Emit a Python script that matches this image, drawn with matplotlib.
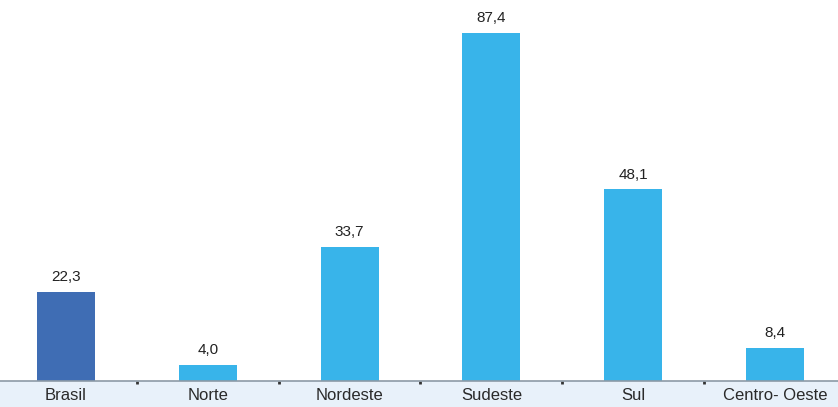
import numpy as np
import matplotlib.pyplot as plt
from matplotlib.patches import Rectangle

regioes = ["Brasil", "Norte", "Nordeste", "Sudeste", "Sul", "Centro- Oeste"]
valores = [22.3, 4.0, 33.7, 87.4, 48.1, 8.4]
cores = ["#3f6db4", "#38b4ea", "#38b4ea", "#38b4ea", "#38b4ea", "#38b4ea"]

plt.rcParams["font.family"] = ["Liberation Sans", "DejaVu Sans"]

fig = plt.figure(figsize=(8.38, 4.07), dpi=100)
fig.patches.append(Rectangle((0, 0), 1, 0.064, transform=fig.transFigure,
                             facecolor="#e8f1fa", edgecolor="none", zorder=-1))
ax = fig.add_axes([0, 0.064, 1, 0.936])
ax.patch.set_alpha(0)

x = np.arange(len(regioes))
ax.bar(x, valores, width=0.41, color=cores, zorder=2)

for xi, v in zip(x, valores):
    ax.text(xi, v + 2.0, f"{v:.1f}".replace(".", ","), ha="center", va="bottom",
            fontsize=11, color="#222222")

ax.set_xlim(-0.465, 5.444)
ax.set_ylim(0, 95.7)
ax.set_yticks([])
ax.set_xticks(x)
ax.set_xticklabels(regioes, fontsize=12, color="#2a2a2a")
ax.tick_params(axis="x", which="major", length=0, pad=5)
ax.set_xticks(x[:-1] + 0.5, minor=True)
ax.tick_params(axis="x", which="minor", length=2.5, width=2, color="#333333")

for s in ["top", "right", "left"]:
    ax.spines[s].set_visible(False)
ax.spines["bottom"].set_color("#8c9aa6")
ax.spines["bottom"].set_linewidth(1.2)

fig.savefig("out.png", dpi=100)
